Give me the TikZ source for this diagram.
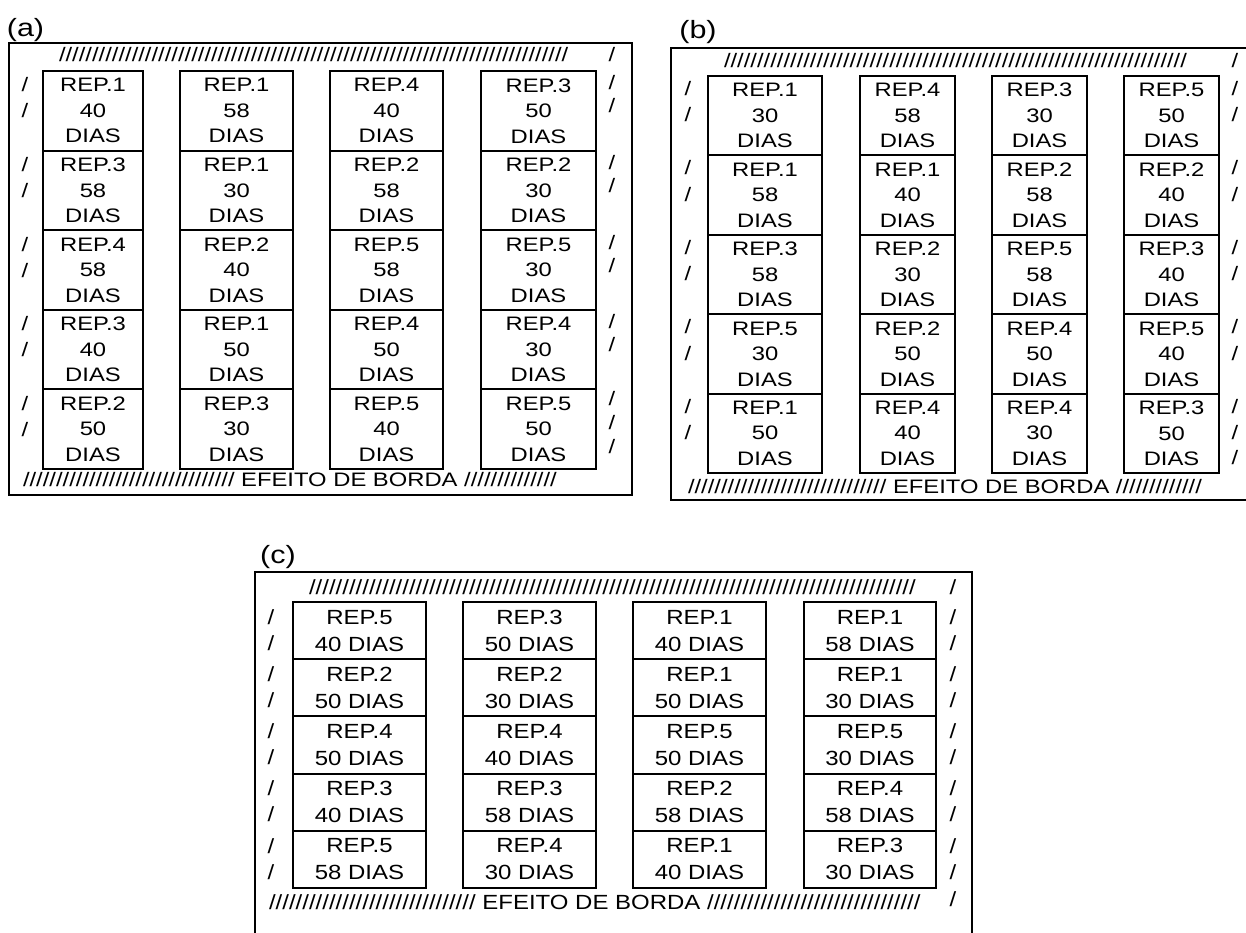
\documentclass[tikz,border=0pt]{standalone}
\usepackage{fontspec}
\setmainfont{Liberation Sans}
\newfontfamily\fab{Liberation Sans}[FakeStretch=1.22]
\newfontfamily\fc{Liberation Sans}[FakeStretch=1.17]
\newcommand\hatch[1]{\foreach\k in {1,...,#1}{/}}

\begin{document}
\begin{tikzpicture}[x=1pt,y=-1pt,line width=2pt,
  cellab/.style={draw,inner sep=0pt,minimum height=79.6pt,align=center,font=\fab\fontsize{19.5}{25.5}\selectfont},
  cellc/.style={draw,inner sep=0pt,minimum height=57.2pt,align=center,font=\fc\fontsize{20.5}{27}\selectfont},
  slab/.style={inner sep=0pt,font=\fab\fontsize{19.5}{23}\selectfont},
  slc/.style={inner sep=0pt,font=\fc\fontsize{20.5}{24}\selectfont},
  lbl/.style={inner sep=0pt,font=\fab\fontsize{25}{28}\selectfont}]
\path[use as bounding box] (0,0) rectangle (1246,933);
\clip (0,0) rectangle (1246,933);
% panel (a)
\node[lbl] (la) at (25.5,30) {(a)};
\draw (9,43) rectangle (632,495);
\node[slab,anchor=west] (topa) at (58,55) {\hatch{77}};
\node[cellab,minimum width=100pt] (a11) at (93,110.8) {REP.1\\40\\DIAS};
\node[cellab,minimum width=113pt] (a12) at (236.5,110.8) {REP.1\\58\\DIAS};
\node[cellab,minimum width=113pt] (a13) at (386.5,110.8) {REP.4\\40\\DIAS};
\node[cellab,minimum width=115pt] (a14) at (538.5,110.8) {REP.3\\50\\DIAS};
\node[cellab,minimum width=100pt] (a21) at (93,190.4) {REP.3\\58\\DIAS};
\node[cellab,minimum width=113pt] (a22) at (236.5,190.4) {REP.1\\30\\DIAS};
\node[cellab,minimum width=113pt] (a23) at (386.5,190.4) {REP.2\\58\\DIAS};
\node[cellab,minimum width=115pt] (a24) at (538.5,190.4) {REP.2\\30\\DIAS};
\node[cellab,minimum width=100pt] (a31) at (93,270) {REP.4\\58\\DIAS};
\node[cellab,minimum width=113pt] (a32) at (236.5,270) {REP.2\\40\\DIAS};
\node[cellab,minimum width=113pt] (a33) at (386.5,270) {REP.5\\58\\DIAS};
\node[cellab,minimum width=115pt] (a34) at (538.5,270) {REP.5\\30\\DIAS};
\node[cellab,minimum width=100pt] (a41) at (93,349.6) {REP.3\\40\\DIAS};
\node[cellab,minimum width=113pt] (a42) at (236.5,349.6) {REP.1\\50\\DIAS};
\node[cellab,minimum width=113pt] (a43) at (386.5,349.6) {REP.4\\50\\DIAS};
\node[cellab,minimum width=115pt] (a44) at (538.5,349.6) {REP.4\\30\\DIAS};
\node[cellab,minimum width=100pt] (a51) at (93,429.2) {REP.2\\50\\DIAS};
\node[cellab,minimum width=113pt] (a52) at (236.5,429.2) {REP.3\\30\\DIAS};
\node[cellab,minimum width=113pt] (a53) at (386.5,429.2) {REP.5\\40\\DIAS};
\node[cellab,minimum width=115pt] (a54) at (538.5,429.2) {REP.5\\50\\DIAS};
\foreach \y [count=\i] in {85,111,164.6,190.6,244.2,270.2,323.8,349.8,403.4,429.4}
  \node[slab] (al\i) at (25,\y) {/};
\foreach \y [count=\i] in {55,83,106,162.6,185.6,242.2,265.2,321.8,344.8,399,423,447}
  \node[slab] (ar\i) at (612,\y) {/};
\node[slab,anchor=west] (bota) at (22,480) {\hatch{32} EFEITO DE BORDA \hatch{14}};
% panel (b)
\node[lbl] (lb) at (698,32) {(b)};
\draw (671,48) rectangle (1262,500);
\node[slab,anchor=west] (topb) at (723,61) {\hatch{70}};
\node[cellab,minimum width=114pt] (b11) at (765,115.7) {REP.1\\30\\DIAS};
\node[cellab,minimum width=95pt] (b12) at (907.5,115.7) {REP.4\\58\\DIAS};
\node[cellab,minimum width=95pt] (b13) at (1039.5,115.7) {REP.3\\30\\DIAS};
\node[cellab,minimum width=95pt] (b14) at (1171.5,115.7) {REP.5\\50\\DIAS};
\node[cellab,minimum width=114pt] (b21) at (765,195.1) {REP.1\\58\\DIAS};
\node[cellab,minimum width=95pt] (b22) at (907.5,195.1) {REP.1\\40\\DIAS};
\node[cellab,minimum width=95pt] (b23) at (1039.5,195.1) {REP.2\\58\\DIAS};
\node[cellab,minimum width=95pt] (b24) at (1171.5,195.1) {REP.2\\40\\DIAS};
\node[cellab,minimum width=114pt] (b31) at (765,274.5) {REP.3\\58\\DIAS};
\node[cellab,minimum width=95pt] (b32) at (907.5,274.5) {REP.2\\30\\DIAS};
\node[cellab,minimum width=95pt] (b33) at (1039.5,274.5) {REP.5\\58\\DIAS};
\node[cellab,minimum width=95pt] (b34) at (1171.5,274.5) {REP.3\\40\\DIAS};
\node[cellab,minimum width=114pt] (b41) at (765,353.9) {REP.5\\30\\DIAS};
\node[cellab,minimum width=95pt] (b42) at (907.5,353.9) {REP.2\\50\\DIAS};
\node[cellab,minimum width=95pt] (b43) at (1039.5,353.9) {REP.4\\50\\DIAS};
\node[cellab,minimum width=95pt] (b44) at (1171.5,353.9) {REP.5\\40\\DIAS};
\node[cellab,minimum width=114pt] (b51) at (765,433.3) {REP.1\\50\\DIAS};
\node[cellab,minimum width=95pt] (b52) at (907.5,433.3) {REP.4\\40\\DIAS};
\node[cellab,minimum width=95pt] (b53) at (1039.5,433.3) {REP.4\\30\\DIAS};
\node[cellab,minimum width=95pt] (b54) at (1171.5,433.3) {REP.3\\50\\DIAS};
\foreach \y [count=\i] in {88.5,115,167.9,194.4,247.3,273.8,326.7,353.2,406.1,432.6}
  \node[slab] (bl\i) at (688,\y) {/};
\foreach \y [count=\i] in {61,88.5,115,167.9,194.4,247.3,273.8,326.7,353.2,406.1,432.6,458}
  \node[slab] (br\i) at (1235,\y) {/};
\node[slab,anchor=west] (botb) at (687,487) {\hatch{30} EFEITO DE BORDA \hatch{13}};
% panel (c)
\node[lbl] (lc) at (278,557) {(c)};
\draw (255,572) rectangle (972,950);
\node[slc,anchor=west] (topc) at (308,587) {\hatch{91}};
\node[cellc,minimum width=133pt] (c11) at (359.5,630.6) {REP.5\\40 DIAS};
\node[cellc,minimum width=133pt] (c12) at (529.5,630.6) {REP.3\\50 DIAS};
\node[cellc,minimum width=133pt] (c13) at (699.5,630.6) {REP.1\\40 DIAS};
\node[cellc,minimum width=132pt] (c14) at (870,630.6) {REP.1\\58 DIAS};
\node[cellc,minimum width=133pt] (c21) at (359.5,687.8) {REP.2\\50 DIAS};
\node[cellc,minimum width=133pt] (c22) at (529.5,687.8) {REP.2\\30 DIAS};
\node[cellc,minimum width=133pt] (c23) at (699.5,687.8) {REP.1\\50 DIAS};
\node[cellc,minimum width=132pt] (c24) at (870,687.8) {REP.1\\30 DIAS};
\node[cellc,minimum width=133pt] (c31) at (359.5,745) {REP.4\\50 DIAS};
\node[cellc,minimum width=133pt] (c32) at (529.5,745) {REP.4\\40 DIAS};
\node[cellc,minimum width=133pt] (c33) at (699.5,745) {REP.5\\50 DIAS};
\node[cellc,minimum width=132pt] (c34) at (870,745) {REP.5\\30 DIAS};
\node[cellc,minimum width=133pt] (c41) at (359.5,802.2) {REP.3\\40 DIAS};
\node[cellc,minimum width=133pt] (c42) at (529.5,802.2) {REP.3\\58 DIAS};
\node[cellc,minimum width=133pt] (c43) at (699.5,802.2) {REP.2\\58 DIAS};
\node[cellc,minimum width=132pt] (c44) at (870,802.2) {REP.4\\58 DIAS};
\node[cellc,minimum width=133pt] (c51) at (359.5,859.4) {REP.5\\58 DIAS};
\node[cellc,minimum width=133pt] (c52) at (529.5,859.4) {REP.4\\30 DIAS};
\node[cellc,minimum width=133pt] (c53) at (699.5,859.4) {REP.1\\40 DIAS};
\node[cellc,minimum width=132pt] (c54) at (870,859.4) {REP.3\\30 DIAS};
\foreach \y [count=\i] in {617,643,674.2,700.2,731.4,757.4,788.6,814.6,845.8,871.8}
  \node[slc] (cl\i) at (271,\y) {/};
\foreach \y [count=\i] in {587,617,643,674.2,700.2,731.4,757.4,788.6,814.6,845.8,871.8,899}
  \node[slc] (cr\i) at (953,\y) {/};
\node[slc,anchor=west] (botc) at (268,902) {\hatch{31} EFEITO DE BORDA \hatch{32}};
\end{tikzpicture}
\end{document}
